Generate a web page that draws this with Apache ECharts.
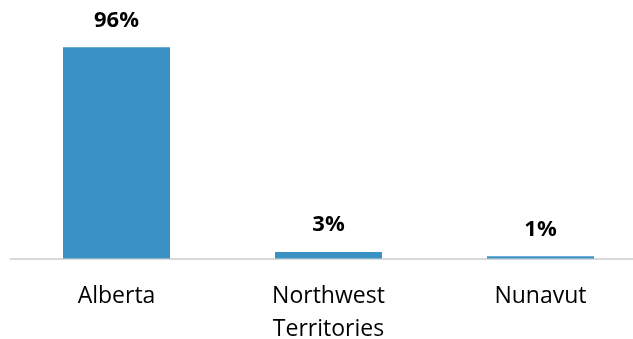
<!DOCTYPE html>
<html>
<head>
<meta charset="utf-8">
<script src="https://cdn.jsdelivr.net/npm/echarts@6/dist/echarts.min.js"></script>
<style>
  html, body { margin: 0; padding: 0; background: #ffffff; }
  #chart { width: 633px; height: 339px; }
</style>
</head>
<body>
<div id="chart"></div>
<script>
// Share of total by territory/province (%)
const categories = ['Alberta', 'Northwest\nTerritories', 'Nunavut'];
const shares = [96, 3, 1];

const chart = echarts.init(document.getElementById('chart'), null, { renderer: 'canvas' });

chart.setOption({
  animation: false,
  backgroundColor: '#ffffff',
  grid: { left: 10.5, top: 38.5, width: 636, height: 220, outerBoundsMode: 'none', containLabel: false },
  xAxis: {
    type: 'category',
    data: categories,
    axisLine: { show: true, lineStyle: { color: '#d9d9d9', width: 2 } },
    axisTick: { show: false },
    axisLabel: {
      color: '#000000',
      fontFamily: 'Open Sans',
      fontSize: 23,
      lineHeight: 33,
      margin: 21,
      interval: 0
    }
  },
  yAxis: {
    type: 'value',
    min: 0,
    max: 100,
    show: false,
    splitLine: { show: false }
  },
  series: [{
    type: 'bar',
    data: shares,
    barWidth: 107,
    itemStyle: { color: '#3a92c4' },
    label: {
      show: true,
      position: 'top',
      distance: 16,
      color: '#000000',
      fontFamily: 'Open Sans',
      fontWeight: 'bold',
      fontSize: 22,
      formatter: p => p.value + '%'
    }
  }]
});
</script>
</body>
</html>
